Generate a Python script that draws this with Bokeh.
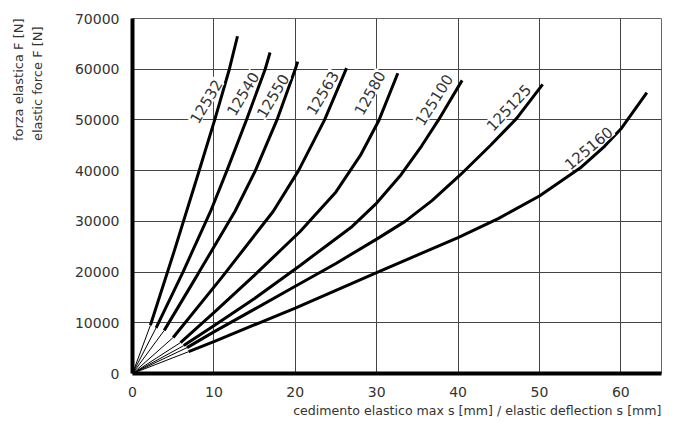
from bokeh.plotting import figure
from bokeh.models import Range1d, SingleIntervalTicker, BasicTickFormatter, Title, ColumnDataSource
from bokeh.core.properties import value
from bokeh.embed import file_html
from bokeh.resources import INLINE
import math

FONT = "DejaVu Sans"
TXT = "#333333"

# ---- data (x: deflection mm, F: force N) ----
names = ["12532", "12540", "12550", "12563", "12580", "125100", "125125", "125160"]

x_12532 = [2.2, 5.0, 8.0, 10.1, 11.9, 12.9]
f_12532 = [9500, 23500, 39000, 50000, 60000, 66500]

x_12540 = [2.9, 6.2, 9.6, 11.6, 14.0, 16.3, 16.9]
f_12540 = [9000, 20000, 32000, 40000, 50000, 60000, 63300]

x_12550 = [3.9, 8.0, 12.6, 15.1, 17.75, 20.0, 20.3]
f_12550 = [8500, 19500, 32000, 40000, 50000, 60000, 61500]

x_12563 = [5.0, 11.0, 17.3, 20.4, 23.6, 26.3]
f_12563 = [7100, 19000, 32000, 40000, 50000, 60200]

x_12580 = [5.9, 10.0, 15.0, 20.6, 25.0, 28.0, 30.3, 32.6]
f_12580 = [6100, 12000, 19400, 28000, 35800, 43000, 50000, 59200]

x_125100 = [6.3, 10.0, 15.0, 20.6, 24.0, 27.0, 30.0, 33.0, 35.5, 37.6, 40.5]
f_125100 = [5500, 9400, 14800, 21300, 25400, 29000, 33600, 39200, 44800, 50000, 57800]

x_125125 = [6.7, 10.0, 15.0, 20.0, 25.0, 30.0, 33.5, 36.8, 40.3, 44.0, 47.2, 50.4]
f_125125 = [5100, 8200, 12700, 17200, 21700, 26500, 30000, 34100, 39200, 45000, 50300, 57000]

x_125160 = [6.9, 10.0, 20.0, 30.0, 40.0, 45.0, 50.0, 55.0, 58.0, 60.0, 63.2]
f_125160 = [4300, 6300, 12900, 19900, 26800, 30600, 35000, 40500, 44800, 48200, 55400]

label_x = [9.0, 13.5, 17.2, 23.3, 29.1, 37.0, 46.2, 56.0]
label_f = [53700, 55200, 54800, 55350, 55350, 54000, 52500, 44500]
label_angle_deg = [59, 59, 59, 59, 61, 58, 47, 40]

x_ticks = [0, 10, 20, 30, 40, 50, 60]
f_ticks = [0, 10000, 20000, 30000, 40000, 50000, 60000, 70000]

x_title = "cedimento elastico max s [mm] / elastic deflection s [mm]"
y_title_lines = ["forza elastica F [N]", "elastic force F [N]", " "]

curves_x = [x_12532, x_12540, x_12550, x_12563, x_12580, x_125100, x_125125, x_125160]
curves_f = [f_12532, f_12540, f_12550, f_12563, f_12580, f_125100, f_125125, f_125160]

p = figure(width=671, height=425, output_backend="svg", toolbar_location=None,
           title=None, x_range=Range1d(0, 65), y_range=Range1d(0, 70000),
           min_border_left=132, min_border_right=10, min_border_top=18, min_border_bottom=52)
p.background_fill_color = "white"
p.border_fill_color = "white"
p.outline_line_color = "#666666"
p.outline_line_width = 1

# grid
p.xgrid.ticker = SingleIntervalTicker(interval=10)
p.ygrid.ticker = SingleIntervalTicker(interval=10000)
for g in (p.xgrid, p.ygrid):
    g.grid_line_color = "#444444"
    g.grid_line_width = 1
    g.grid_line_alpha = 1.0

# axes
p.xaxis.ticker = x_ticks
p.yaxis.ticker = f_ticks
p.yaxis.formatter = BasicTickFormatter(use_scientific=False)
for ax in (p.xaxis, p.yaxis):
    ax.axis_line_color = "black"
    ax.axis_line_width = 4
    ax.major_tick_line_color = None
    ax.minor_tick_line_color = None
    ax.major_tick_out = 0
    ax.major_tick_in = 0
    ax.major_label_text_font = FONT
    ax.major_label_text_font_size = "14px"
    ax.major_label_text_color = TXT
p.xaxis.major_label_standoff = 13
p.yaxis.major_label_standoff = 13

# curves
for xs, fs in zip(curves_x, curves_f):
    p.line([0, xs[0]], [0, fs[0]], line_color="black", line_width=1)
    p.line(xs, fs, line_color="black", line_width=3)

# curve labels
src = ColumnDataSource(dict(x=label_x, y=label_f, t=names,
                            a=[math.radians(d) for d in label_angle_deg]))
p.text(x="x", y="y", text="t", angle="a", source=src,
       text_font=value(FONT), text_font_size="15px", text_color=TXT,
       text_align="center", text_baseline="middle",
       background_fill_color="white", padding=1)

# axis titles
p.add_layout(Title(text=x_title, align="right", text_font=FONT, text_font_size="12.6px",
                   text_color=TXT, text_font_style="normal", standoff=3), "below")
p.add_layout(Title(text="\n".join(y_title_lines), align="right", text_font=FONT,
                   text_font_size="13px", text_line_height=1.3,
                   text_color=TXT, text_font_style="normal", standoff=14), "left")

open("out.html", "w").write(file_html(p, INLINE))
